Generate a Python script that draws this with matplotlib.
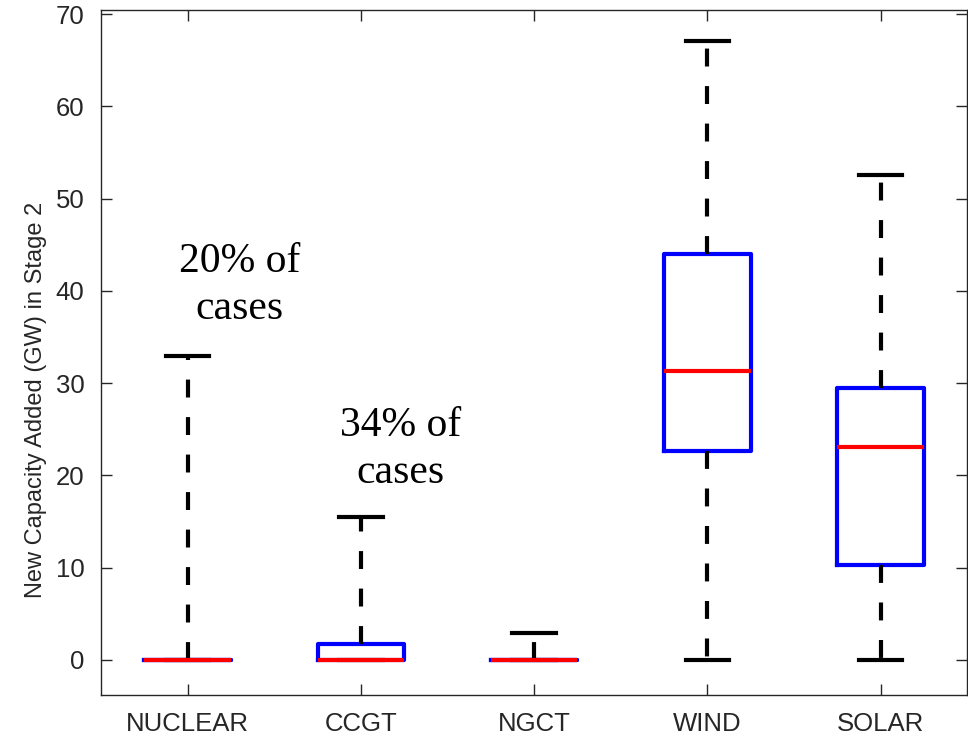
import matplotlib
matplotlib.use('Agg')
import matplotlib.pyplot as plt

# boxplot summary values (GW)
techs = ['NUCLEAR', 'CCGT', 'NGCT', 'WIND', 'SOLAR']
q1 = [0, 0, 0, 22.6, 10.3]
med = [0, 0, 0, 31.3, 23.1]
q3 = [0, 1.7, 0, 44.0, 29.5]
wlo = [0, 0, 0, 0, 0]
whi = [32.9, 15.5, 2.9, 67.1, 52.6]

notes = ['20% of\ncases', '34% of\ncases']
note_x = [1.3, 2.23]
note_y = [40.6, 22.8]

stats = []
for i in range(len(techs)):
    stats.append(dict(label=techs[i], q1=q1[i], med=med[i], q3=q3[i],
                      whislo=wlo[i], whishi=whi[i], fliers=[]))

fig = plt.figure(figsize=(9.68, 7.37), dpi=100)
ax = fig.add_axes([0.1043, 0.057, 0.895, 0.929])

dash = (0, (4.3, 4.7))
ax.bxp(stats, widths=0.5, showfliers=False,
       boxprops=dict(color='#0000ff', lw=3),
       medianprops=dict(color='#ff0000', lw=3),
       whiskerprops=dict(color='black', lw=3, linestyle=dash),
       capprops=dict(color='black', lw=3), capwidths=0.25)

for i in range(len(notes)):
    ax.text(note_x[i], note_y[i], notes[i], ha='center', va='center',
            family='Liberation Serif', fontsize=30, linespacing=1.3)

ax.set_xlim(0.5, 5.5)
ax.set_ylim(-3.8, 70.4)
ax.set_yticks(range(0, 71, 10))
ax.set_ylabel('New Capacity Added (GW) in Stage 2', family='Liberation Sans',
              fontsize=17, color='#262626')
ax.yaxis.set_label_coords(-0.062, 0.431)
ax.tick_params(direction='in', length=8, width=1, top=True, right=True,
               labelsize=18.5, colors='#262626', pad=12)
for lab in ax.get_xticklabels() + ax.get_yticklabels():
    lab.set_family('Liberation Sans')
for s in ax.spines.values():
    s.set_color('#262626')
    s.set_linewidth(1)

fig.savefig('out.png', dpi=100)
